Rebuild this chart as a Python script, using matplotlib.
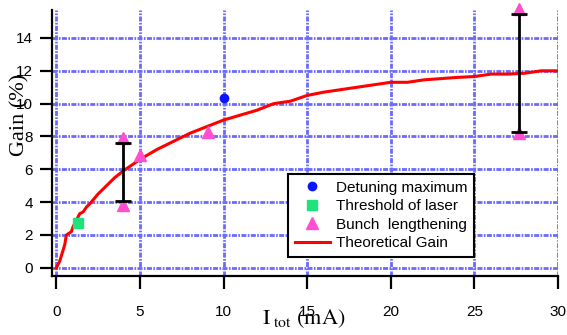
"""Theoretical gain vs total current, with measured points."""

import matplotlib
matplotlib.use("Agg")
import matplotlib.pyplot as plt

# --- data ---
theory_x = [0, 0.2, 0.35, 0.5, 0.6, 0.9, 1.0, 1.2, 1.4, 1.6, 1.8, 2.0, 2.5, 3.0,
            3.5, 4.0, 5.0, 6.0, 7.0, 8.0, 9.0, 10.0, 11.0, 12.0, 13.0, 14.0,
            15.0, 16.0, 18.0, 20.0, 21.0, 22.0, 24.0, 25.0, 26.0, 27.0, 28.0,
            29.0, 30.0]
theory_y = [0, 0.4, 0.9, 1.4, 2.0, 2.2, 2.5, 2.9, 3.3, 3.4, 3.7, 3.9, 4.5, 5.0,
            5.5, 5.9, 6.6, 7.2, 7.7, 8.2, 8.6, 9.0, 9.3, 9.6, 10.0, 10.15,
            10.5, 10.7, 11.0, 11.3, 11.3, 11.45, 11.6, 11.65, 11.8, 11.8, 11.85,
            12.0, 12.0]

detuning_x = [10.0]
detuning_y = [10.35]

threshold_x = [1.3]
threshold_y = [2.7]

bunch_x = [4.0, 4.0, 5.0, 9.1, 27.7, 27.7]
bunch_y = [7.9, 3.85, 6.9, 8.3, 15.75, 8.2]

err_x = [4.0, 27.7]
err_lo = [4.05, 8.3]
err_hi = [7.6, 15.45]

x_ticks = [0, 5, 10, 15, 20, 25, 30]
y_ticks = [0, 2, 4, 6, 8, 10, 12, 14]

plt.rcParams["font.family"] = ["Liberation Sans", "DejaVu Sans"]
plt.rcParams["mathtext.fontset"] = "stix"

fig = plt.figure(figsize=(5.67, 3.35), dpi=100)
ax = fig.add_axes([0.092, 0.176, 0.892, 0.794])

ax.set_xlim(-0.25, 30)
ax.set_ylim(-0.5, 15.7)

# dense dash-dot grid, drawn as plain lines so it sits exactly on the ticks
grid_kw = dict(color="#6a6aff", linewidth=2.0, linestyle=(0, (1.8, 0.5, 0.6, 0.5)))
ax.set_xticks(x_ticks)
ax.set_yticks(y_ticks)
for xv in x_ticks:
    ax.axvline(xv, zorder=0, **grid_kw)
for yv in y_ticks:
    ax.axhline(yv, zorder=0, **grid_kw)

ax.plot(theory_x, theory_y, color="#ff0000", linewidth=2.2,
        label="Theoretical Gain", zorder=3)
ax.plot(detuning_x, detuning_y, linestyle="none", marker="o", markersize=6,
        color="#0a14ff", label="Detuning maximum", zorder=4)
ax.plot(threshold_x, threshold_y, linestyle="none", marker="s", markersize=7,
        color="#1de37a", label="Threshold of laser", zorder=4)
ax.plot(bunch_x, bunch_y, linestyle="none", marker="^", markersize=8.5,
        color="#ff4fd0", label="Bunch  lengthening", zorder=4, clip_on=False)

mid = [(lo + hi) / 2 for lo, hi in zip(err_lo, err_hi)]
half = [(hi - lo) / 2 for lo, hi in zip(err_lo, err_hi)]
ax.errorbar(err_x, mid, yerr=half, fmt="none", ecolor="black",
            elinewidth=2, capsize=6, capthick=2, zorder=5, clip_on=False)

for side in ("top", "right"):
    ax.spines[side].set_visible(False)
for side in ("left", "bottom"):
    ax.spines[side].set_linewidth(1.6)

ax.tick_params(direction="out", length=9, width=1.6, labelsize=11)
ax.tick_params(axis="x", pad=12)
ax.tick_params(axis="y", pad=5)

# labels overlap the tick labels just like the original
ax.set_ylabel("Gain (%)", family="Liberation Serif", fontsize=16)
ax.yaxis.set_label_coords(-0.045, 0.605)
ax.set_xlabel(r"$\mathrm{I}_{\ \mathrm{tot}}\ \mathrm{(mA)}$", fontsize=16)
ax.xaxis.set_label_coords(0.498, -0.118)

handles, labels = ax.get_legend_handles_labels()
order = [1, 2, 3, 0]
leg = ax.legend([handles[i] for i in order], [labels[i] for i in order],
                loc="lower left", bbox_to_anchor=(0.466, 0.071),
                fontsize=11, frameon=True, fancybox=False, framealpha=1,
                edgecolor="black", handlelength=2.3, handletextpad=0.4,
                labelspacing=0.3, borderpad=0.45, borderaxespad=0)
leg.get_frame().set_linewidth(1.5)

fig.savefig("out.png", dpi=100)
